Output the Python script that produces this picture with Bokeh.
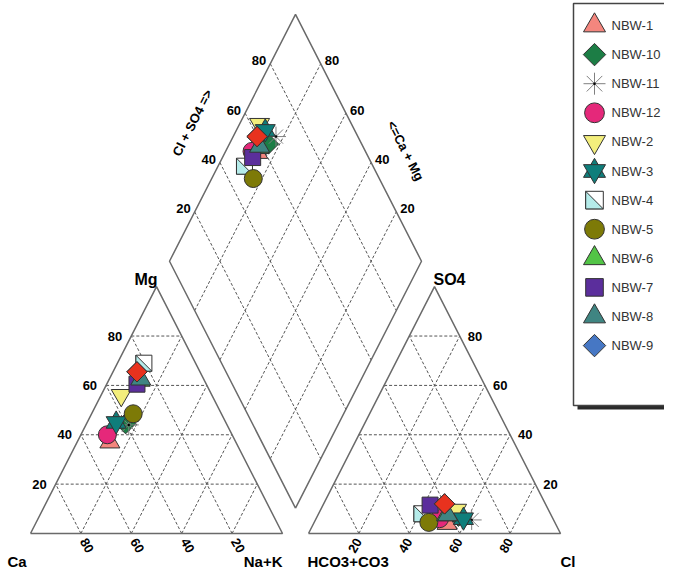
import numpy as np
from bokeh.plotting import figure
from bokeh.models import Range1d, ColumnDataSource
from bokeh.core.properties import value
from bokeh.embed import file_html
from bokeh.resources import INLINE

# ---------------- data (percent of milliequivalents), in plotting / legend order ----------------
samples = ["NBW-1", "NBW-10", "NBW-11", "NBW-12", "NBW-2", "NBW-3",
           "NBW-4", "NBW-5", "NBW-6", "NBW-7", "NBW-8", "NBW-9"]
ca   = [50.0, 40.0, 39.0, 49.5, 36.0, 43.5, 20.5, 35.0, 25.5, 27.5, 25.0, 25.0]
mg   = [37.0, 44.5, 44.0, 40.0, 56.0, 45.0, 69.0, 48.5, 62.0, 60.5, 62.5, 65.5]
nak  = [13.0, 15.5, 17.0, 10.5,  8.0, 11.5, 10.5, 16.5, 12.5, 12.0, 12.5,  9.5]
hco3 = [43.0, 37.0, 32.5, 45.0, 36.5, 35.5, 51.0, 50.0, 41.5, 46.0, 41.0, 40.0]
so4  = [ 4.0,  7.0,  5.5,  6.0,  9.5,  6.0,  8.0,  4.5,  7.5, 11.5,  7.5, 12.0]
cl   = [53.0, 56.0, 62.0, 49.0, 54.0, 58.5, 41.0, 45.5, 51.0, 42.5, 51.5, 48.0]

# red sample drawn on top (not in legend)
extra_ca, extra_mg, extra_nak = [25.0], [65.5], [9.5]
extra_hco3, extra_so4, extra_cl = [40.0], [12.0], [48.0]

ticks = [20, 40, 60, 80]
tick_text = ["20", "40", "60", "80"]

markers = {
    "NBW-1": ("triangle", "#F4867E"),
    "NBW-10": ("diamond", "#1C7D45"),
    "NBW-11": ("asterisk", "#808080"),
    "NBW-12": ("circle", "#E5287A"),
    "NBW-2": ("inverted_triangle", "#F3EE7C"),
    "NBW-3": ("hexagram", "#0F7E7B"),
    "NBW-4": ("halfsquare", "#B5ECEA"),
    "NBW-5": ("circle", "#7D7A07"),
    "NBW-6": ("triangle", "#52C446"),
    "NBW-7": ("square", "#5B2E9C"),
    "NBW-8": ("triangle", "#3F8582"),
    "NBW-9": ("diamond", "#4677C4"),
}
extra_marker = ("diamond", "#E8321E")

# ---------------- geometry ----------------
H = np.sqrt(3) / 2
G = 26.0 / 252.0           # gap between the triangles
SX, SY = 252.0, 285.0      # pixels per unit
OX, OY = 30.0, 533.0       # pixel of the Ca corner
W, HT = 664, 569


def ux(px):
    return (px - OX) / SX


def uy(py):
    return (OY - py) / SY


def tri(top, right, x0):
    top = np.asarray(top, dtype=float) / 100.0
    right = np.asarray(right, dtype=float) / 100.0
    return x0 + right + 0.5 * top, H * top


def diamond(so4v, clv, nakv):
    a = (np.asarray(so4v, dtype=float) + np.asarray(clv, dtype=float)) / 100.0
    m = 1.0 - np.asarray(nakv, dtype=float) / 100.0
    return 1 + G / 2 + 0.5 * (a - m), G * H + H * (a + m)


p = figure(width=W, height=HT, output_backend="svg", toolbar_location=None,
           x_range=Range1d(ux(0), ux(W)), y_range=Range1d(uy(HT), uy(0)),
           x_axis_location=None, y_axis_location=None, min_border=0)
p.grid.visible = False
p.outline_line_color = None
p.background_fill_color = "white"

# ---------------- grid lines ----------------
gx, gy = [], []
for v in ticks:
    for x0 in (0.0, 1.0 + G):
        for t, r in (([v, v], [0, 100 - v]),          # constant top component
                     ([0, 100 - v], [100 - v, 0]),    # constant left-corner component
                     ([0, 100 - v], [v, v])):         # constant right-corner component
            xx, yy = tri(t, r, x0)
            gx.append(list(xx)); gy.append(list(yy))
    xx, yy = diamond([0, 0], [v, v], [0, 100])
    gx.append(list(xx)); gy.append(list(yy))
    xx, yy = diamond([0, 0], [0, 100], [v, v])
    gx.append(list(xx)); gy.append(list(yy))
p.multi_line(gx, gy, line_color="#555555", line_dash="3 2", line_width=1)

ox, oy = [], []
for x0 in (0.0, 1.0 + G):
    xx, yy = tri([0, 0, 100, 0], [0, 100, 0, 0], x0)
    ox.append(list(xx)); oy.append(list(yy))
xx, yy = diamond([0, 0, 0, 0, 0], [0, 100, 100, 0, 0], [100, 100, 0, 0, 100])
ox.append(list(xx)); oy.append(list(yy))
p.multi_line(ox, oy, line_color="#6A6A6A", line_width=1.5)

# ---------------- markers ----------------
LINE = "#333333"


def draw(xs, ys, kind, color, size):
    xs = np.asarray(xs); ys = np.asarray(ys)
    if kind == "diamond":
        p.scatter(xs, ys, marker="square", angle=np.pi / 4, size=size * 0.72,
                  fill_color=color, line_color=LINE)
    elif kind == "hexagram":
        p.scatter(xs, ys, marker="triangle", size=size, fill_color=color, line_color=LINE)
        p.scatter(xs, ys, marker="inverted_triangle", size=size, fill_color=color, line_color=LINE)
    elif kind == "halfsquare":
        s = size * 0.8
        p.scatter(xs, ys, marker="square", size=s, fill_color="white", line_color=LINE)
        hx, hy = s / 2 / SX, s / 2 / SY
        px_ = [[x - hx, x - hx, x + hx] for x in xs]
        py_ = [[y + hy, y - hy, y - hy] for y in ys]
        p.patches(px_, py_, fill_color=color, line_color=LINE, line_width=1)
    elif kind == "asterisk":
        p.scatter(xs, ys, marker="asterisk", size=size, line_color=color, line_width=1)
        p.scatter(xs, ys, marker="circle", size=2.5, fill_color="black", line_color=None)
    elif kind == "square":
        p.scatter(xs, ys, marker="square", size=size * 0.8, fill_color=color, line_color=LINE)
    elif kind == "circle":
        p.scatter(xs, ys, marker="circle", size=size * 0.9, fill_color=color, line_color=LINE)
    else:
        p.scatter(xs, ys, marker=kind, size=size, fill_color=color, line_color=LINE)


def all_positions(c_mg, c_nak, a_so4, a_cl):
    x1, y1 = tri(c_mg, c_nak, 0.0)
    x2, y2 = tri(a_so4, a_cl, 1.0 + G)
    x3, y3 = diamond(a_so4, a_cl, c_nak)
    return np.concatenate([x1, x2, x3]), np.concatenate([y1, y2, y3])


for i, s in enumerate(samples):
    xs, ys = all_positions([mg[i]], [nak[i]], [so4[i]], [cl[i]])
    kind, col = markers[s]
    draw(xs, ys, kind, col, 20)

xs, ys = all_positions(extra_mg, extra_nak, extra_so4, extra_cl)
draw(xs, ys, extra_marker[0], extra_marker[1], 20)

# ---------------- texts ----------------
FONT = value("Liberation Sans")


def add_text(xs, ys, texts, size="13px", bold=True, align="center", baseline="middle",
             angle=0.0, xo=0, yo=0, color="black"):
    src = ColumnDataSource(dict(x=list(xs), y=list(ys), t=list(texts)))
    p.text("x", "y", text="t", source=src, text_font=FONT, text_font_size=size,
           text_font_style="bold" if bold else "normal", text_align=align,
           text_baseline=baseline, angle=angle, x_offset=xo, y_offset=yo, text_color=color)


# cation triangle: Mg on left edge, Ca along bottom
xx, yy = tri(ticks, [0] * 4, 0.0)
add_text(xx, yy, tick_text, align="right", xo=-9)
xx, yy = tri([0] * 4, [100 - v for v in ticks], 0.0)
add_text(xx, yy, tick_text, angle=-np.pi / 3, xo=6, yo=12)
# anion triangle: SO4 on right edge, Cl along bottom
xx, yy = tri(ticks, [100 - v for v in ticks], 1.0 + G)
add_text(xx, yy, tick_text, align="left", xo=8)
xx, yy = tri([0] * 4, ticks, 1.0 + G)
add_text(xx, yy, tick_text, angle=np.pi / 3, xo=-4, yo=12)
# diamond
xx, yy = diamond([0] * 4, ticks, [0] * 4)
add_text(xx, yy, tick_text, align="right", xo=-4, yo=-3)
xx, yy = diamond([0] * 4, [100] * 4, [100 - v for v in ticks])
add_text(xx, yy, tick_text, align="left", xo=4, yo=-3)
xx, yy = diamond([0], [50], [0])
add_text(xx, yy, ["Cl + SO4 =>"], size="13px", angle=1.1, xo=-40, yo=-15)
xx, yy = diamond([0], [100], [50])
add_text(xx, yy, ["<=Ca + Mg"], size="13px", angle=-1.1, xo=47, yo=13)

# corner names
add_text([0.0], [0.0], ["Ca"], size="15px", align="left", xo=-23, yo=28)
add_text([1.0], [0.0], ["Na+K"], size="15px", align="right", xo=0, yo=28)
add_text([1.0 + G], [0.0], ["HCO3+CO3"], size="15px", align="left", xo=-1, yo=28)
add_text([2.0 + G], [0.0], ["Cl"], size="15px", align="left", xo=0, yo=28)
add_text([0.5], [H], ["Mg"], size="16px", align="right", baseline="alphabetic", xo=1, yo=-7)
add_text([1.5 + G], [H], ["SO4"], size="16px", align="left", baseline="alphabetic", xo=-1, yo=-7)

# ---------------- legend ----------------
p.quad(left=[ux(577)], right=[ux(720)], top=[uy(7)], bottom=[uy(409)],
       fill_color="#2A2A2A", line_color=None)
p.quad(left=[ux(573)], right=[ux(716)], top=[uy(3)], bottom=[uy(405)],
       fill_color="white", line_color="#444444", line_width=1.5)
for k, s in enumerate(samples):
    ly = uy(25 + 29.1 * k)
    kind, col = markers[s]
    draw([ux(594)], [ly], kind, col, 22)
    add_text([ux(611)], [ly], [s], size="13px", bold=False, align="left", color="#333333")

open("out.html", "w").write(file_html(p, INLINE))
